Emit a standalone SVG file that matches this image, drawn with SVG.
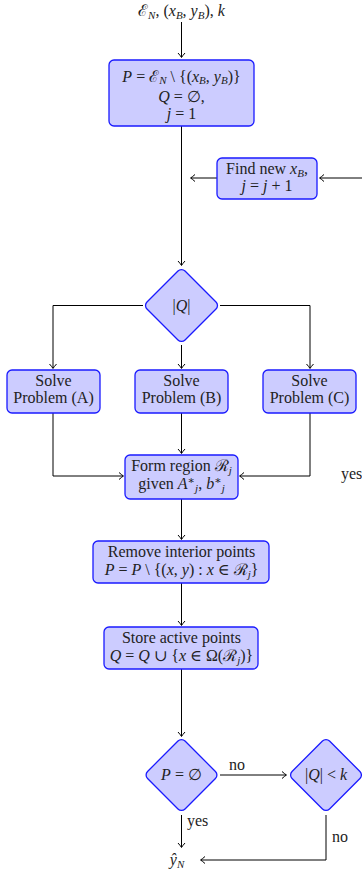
<svg xmlns="http://www.w3.org/2000/svg" width="362" height="873" viewBox="0 0 362 873">
<style>
text{font-family:"Liberation Serif","DejaVu Serif",serif;font-size:16px;fill:#222;text-anchor:middle}
.m{font-style:italic}
.s{font-size:11px}
.box{fill:#ccccff;stroke:#1a1aff;stroke-width:1.3}
.c{fill:none;stroke:#000;stroke-width:1}
.lbl{text-anchor:start}
</style>
<defs>
<marker id="ar" viewBox="-6 -5 8 10" refX="0" refY="0" markerWidth="8" markerHeight="10" markerUnits="userSpaceOnUse" orient="auto">
<path d="M-4,-3.5 Q-1,-0.8 0.5,0 Q-1,0.8 -4,3.5" fill="none" stroke="#000" stroke-width="1"/>
</marker>
</defs>
<rect width="362" height="873" fill="#fff"/>
<g id="connectors">
<path class="c" d="M181.5,22 V57" marker-end="url(#ar)"/>
<path class="c" d="M181.5,126 V265" marker-end="url(#ar)"/>
<path class="c" d="M217,178 H191" marker-end="url(#ar)"/>
<path class="c" d="M362,178 H320" marker-end="url(#ar)"/>
<path class="c" d="M143,305.5 H53 V368" marker-end="url(#ar)"/>
<path class="c" d="M181.5,345 V368" marker-end="url(#ar)"/>
<path class="c" d="M220,305.5 H310 V368" marker-end="url(#ar)"/>
<path class="c" d="M53,413 V476 H123" marker-end="url(#ar)"/>
<path class="c" d="M181.5,413 V453" marker-end="url(#ar)"/>
<path class="c" d="M310,413 V476 H240" marker-end="url(#ar)"/>
<path class="c" d="M181.5,499 V539" marker-end="url(#ar)"/>
<path class="c" d="M181.5,583 V625" marker-end="url(#ar)"/>
<path class="c" d="M181.5,669 V736" marker-end="url(#ar)"/>
<path class="c" d="M220,775 H286" marker-end="url(#ar)"/>
<path class="c" d="M181.5,815 V847" marker-end="url(#ar)"/>
<path class="c" d="M326,815 V860 H201" marker-end="url(#ar)"/>
<text class="lbl" x="229" y="770">no</text>
<text class="lbl" x="187" y="826">yes</text>
<text class="lbl" x="332" y="842">no</text>
<text class="lbl" x="341" y="479">yes</text>
</g>
<g id="input">
<text x="181.5" y="16"><tspan>ℰ</tspan><tspan class="m s" dy="3">N</tspan><tspan dy="-3">, (</tspan><tspan class="m">x</tspan><tspan class="m s" dy="3">B</tspan><tspan dy="-3">, </tspan><tspan class="m">y</tspan><tspan class="m s" dy="3">B</tspan><tspan dy="-3">), </tspan><tspan class="m">k</tspan></text>
</g>
<g id="init">
<rect class="box" x="109" y="60" width="145" height="66" rx="5"/>
<text x="181.5" y="82"><tspan class="m">P</tspan><tspan> = ℰ</tspan><tspan class="m s" dy="2">N</tspan><tspan dy="-2"> \ {(</tspan><tspan class="m">x</tspan><tspan class="m s" dy="2">B</tspan><tspan dy="-2">, </tspan><tspan class="m">y</tspan><tspan class="m s" dy="2">B</tspan><tspan dy="-2">)}</tspan></text>
<text x="181.5" y="102"><tspan class="m">Q</tspan> = ∅,</text>
<text x="181.5" y="119"><tspan class="m">j</tspan> = 1</text>
</g>
<g id="findnew">
<rect class="box" x="217" y="158" width="100" height="41" rx="5"/>
<text x="267" y="174">Find new <tspan class="m">x</tspan><tspan class="m s" dy="3">B</tspan><tspan dy="-3">,</tspan></text>
<text x="267" y="191"><tspan class="m">j</tspan> = <tspan class="m">j</tspan> + 1</text>
</g>
<g id="decideQ">
<rect class="box" x="154.6" y="278.6" width="53.8" height="53.8" rx="5" transform="rotate(45 181.5 305.5)"/>
<text x="181.5" y="311">|<tspan class="m">Q</tspan>|</text>
</g>
<g id="solveA">
<rect class="box" x="7" y="370" width="93" height="43" rx="5"/>
<text x="53.5" y="386">Solve</text>
<text x="53.5" y="403">Problem (A)</text>
</g>
<g id="solveB">
<rect class="box" x="135" y="370" width="93" height="43" rx="5"/>
<text x="181.5" y="386">Solve</text>
<text x="181.5" y="403">Problem (B)</text>
</g>
<g id="solveC">
<rect class="box" x="263" y="370" width="93" height="43" rx="5"/>
<text x="309.5" y="386">Solve</text>
<text x="309.5" y="403">Problem (C)</text>
</g>
<g id="formregion">
<rect class="box" x="125" y="455" width="113" height="44" rx="5"/>
<text x="181.5" y="471">Form region <tspan>ℛ</tspan><tspan class="m s" dy="3">j</tspan></text>
<text x="181.5" y="489">given <tspan class="m">A</tspan><tspan class="s" dy="-5">∗</tspan><tspan class="m s" dy="8">j</tspan><tspan dy="-3">, </tspan><tspan class="m">b</tspan><tspan class="s" dy="-5">∗</tspan><tspan class="m s" dy="8">j</tspan></text>
</g>
<g id="remove">
<rect class="box" x="93" y="541" width="176" height="42" rx="5"/>
<text x="181.5" y="557">Remove interior points</text>
<text x="181.5" y="575"><tspan class="m">P</tspan> = <tspan class="m">P</tspan> \ {(<tspan class="m">x</tspan>, <tspan class="m">y</tspan>) : <tspan class="m">x</tspan> ∈ ℛ<tspan class="m s" dy="3">j</tspan><tspan dy="-3">}</tspan></text>
</g>
<g id="store">
<rect class="box" x="104" y="627" width="154" height="42" rx="5"/>
<text x="181.5" y="643">Store active points</text>
<text x="181.5" y="661"><tspan class="m">Q</tspan> = <tspan class="m">Q</tspan> ∪ {<tspan class="m">x</tspan> ∈ Ω(ℛ<tspan class="m s" dy="3">j</tspan><tspan dy="-3">)}</tspan></text>
</g>
<g id="decideP">
<rect class="box" x="155" y="748.5" width="53" height="53" rx="5" transform="rotate(45 181.5 775)"/>
<text x="181.5" y="780"><tspan class="m">P</tspan> = ∅</text>
</g>
<g id="decideQk">
<rect class="box" x="299.5" y="748.5" width="53" height="53" rx="5" transform="rotate(45 326 775)"/>
<text x="326" y="780">|<tspan class="m">Q</tspan>| &lt; <tspan class="m">k</tspan></text>
</g>
<g id="output">
<text x="177" y="865"><tspan class="m">ŷ</tspan><tspan class="m s" dy="3">N</tspan></text>
</g>
</svg>
